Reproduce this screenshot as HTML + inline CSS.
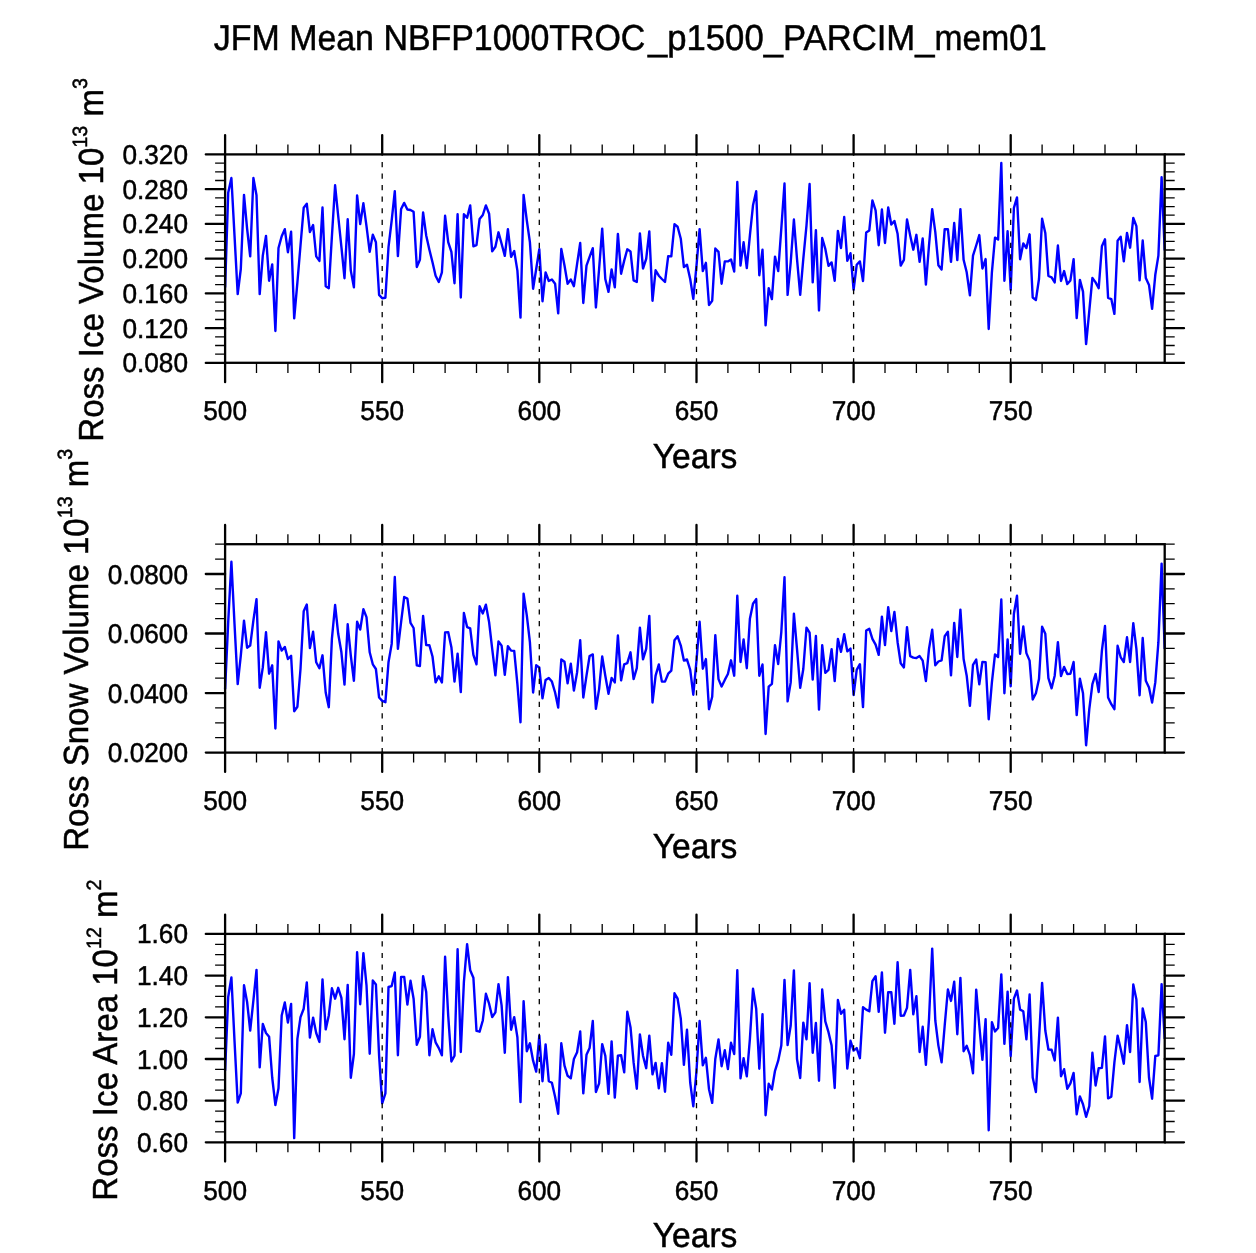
<!DOCTYPE html>
<html><head><meta charset="utf-8"><title>JFM Mean</title>
<style>
html,body{margin:0;padding:0;background:#fff;}
body{width:1256px;height:1253px;overflow:hidden;}
svg{display:block;will-change:transform;}
text{font-family:"Liberation Sans",sans-serif;fill:#000;text-rendering:geometricPrecision;}
.sup{font-size:20.7px;}
.b{stroke:#000;stroke-width:0.5px;}
.s{stroke:#000;stroke-width:0.5px;}
</style></head><body>
<svg width="1256" height="1253" viewBox="0 0 1256 1253">
<rect width="1256" height="1253" fill="#fff"/>
<text transform="translate(213.8,50.3) scale(0.9420,1)" font-size="36" class="b">JFM Mean NBFP1000TROC</text>
<text transform="translate(648.0,50.3) scale(0.9630,1)" font-size="36" class="b">_p1500_PARCIM_</text>
<text transform="translate(934.6,50.3) scale(0.9340,1)" font-size="36" class="b">mem01</text>
<polyline fill="none" stroke="#0000ff" stroke-width="2.4" stroke-linejoin="round" points="225.1,287.4 228.2,192.7 231.4,178.0 234.5,235.4 237.7,294.1 240.8,269.0 244.0,194.9 247.1,228.7 250.2,256.4 253.4,178.0 256.5,195.2 259.7,294.1 262.8,255.6 266.0,235.9 269.1,280.7 272.2,264.4 275.4,331.0 278.5,248.0 281.7,236.3 284.8,229.2 287.9,252.2 291.1,231.8 294.2,318.4 297.4,282.4 300.5,245.5 303.7,207.8 306.8,203.8 309.9,232.1 313.1,225.1 316.2,256.4 319.4,260.9 322.5,207.5 325.7,286.2 328.8,288.2 331.9,236.4 335.1,185.3 338.2,216.0 341.4,246.8 344.5,278.2 347.7,219.2 350.8,270.6 353.9,287.4 357.1,195.4 360.2,224.1 363.4,203.3 366.5,226.2 369.7,251.9 372.8,234.6 375.9,242.2 379.1,294.9 382.2,298.3 385.4,297.8 388.5,247.2 391.7,220.4 394.8,191.2 397.9,256.1 401.1,209.0 404.2,202.9 407.4,209.5 410.5,210.0 413.6,211.8 416.8,267.0 419.9,259.8 423.1,212.5 426.2,235.4 429.4,249.7 432.5,262.3 435.6,275.7 438.8,282.0 441.9,272.3 445.1,215.8 448.2,242.2 451.4,251.9 454.5,283.2 457.6,214.2 460.8,297.5 463.9,214.2 467.1,217.8 470.2,205.4 473.4,246.3 476.5,245.2 479.6,219.0 482.8,215.0 485.9,205.4 489.1,213.7 492.2,251.4 495.4,246.8 498.5,232.3 501.6,243.8 504.8,255.9 507.9,229.2 511.1,256.9 514.2,251.0 517.4,270.6 520.5,317.6 523.6,194.9 526.8,220.4 529.9,242.2 533.1,288.7 536.2,269.0 539.3,249.3 542.5,301.3 545.6,272.5 548.8,281.0 551.9,279.5 555.1,283.7 558.2,313.4 561.3,249.0 564.5,265.6 567.6,283.7 570.8,279.5 573.9,286.2 577.1,263.9 580.2,243.0 583.3,303.0 586.5,265.6 589.6,256.9 592.8,248.2 595.9,307.5 599.1,269.0 602.2,228.6 605.3,279.0 608.5,291.9 611.6,269.5 614.8,287.4 617.9,233.9 621.1,273.7 624.2,260.6 627.3,249.3 630.5,251.4 633.6,280.4 636.8,281.9 639.9,233.4 643.0,268.5 646.2,258.9 649.3,231.4 652.5,300.8 655.6,270.3 658.8,275.7 661.9,279.0 665.0,282.0 668.2,256.1 671.3,256.4 674.5,224.2 677.6,226.7 680.8,238.8 683.9,267.0 687.0,264.8 690.2,279.0 693.3,298.8 696.5,265.6 699.6,229.2 702.8,271.1 705.9,262.8 709.0,305.0 712.2,300.8 715.3,248.5 718.5,251.9 721.6,283.7 724.8,261.4 727.9,261.4 731.0,259.4 734.2,271.5 737.3,182.0 740.5,265.6 743.6,242.3 746.8,268.1 749.9,235.4 753.0,205.3 756.2,191.2 759.3,275.3 762.5,249.7 765.6,325.4 768.7,288.2 771.9,299.1 775.0,256.6 778.2,271.1 781.3,228.7 784.5,183.5 787.6,294.9 790.7,262.3 793.9,219.5 797.0,258.9 800.2,294.9 803.3,258.9 806.5,225.4 809.6,184.0 812.7,282.4 815.9,230.1 819.0,310.5 822.2,238.0 825.3,248.8 828.5,265.9 831.6,262.4 834.7,280.7 837.9,230.9 841.0,248.0 844.2,217.0 847.3,260.9 850.5,253.2 853.6,289.9 856.7,264.8 859.9,261.4 863.0,281.0 866.2,232.4 869.3,230.4 872.4,200.4 875.6,210.3 878.7,245.2 881.9,209.5 885.0,243.0 888.2,207.5 891.3,224.6 894.4,220.9 897.6,233.8 900.7,265.6 903.9,259.8 907.0,219.5 910.2,235.4 913.3,249.7 916.4,234.8 919.6,261.9 922.7,238.5 925.9,284.6 929.0,245.5 932.2,209.1 935.3,232.1 938.4,265.3 941.6,269.5 944.7,229.2 947.9,229.2 951.0,261.9 954.2,223.0 957.3,260.1 960.4,209.1 963.6,259.8 966.7,272.3 969.9,295.4 973.0,255.6 976.2,245.5 979.3,235.1 982.4,268.5 985.6,259.1 988.7,329.0 991.9,272.3 995.0,237.6 998.1,239.6 1001.3,163.0 1004.4,280.7 1007.6,231.2 1010.7,289.9 1013.9,207.8 1017.0,197.4 1020.1,259.2 1023.3,243.5 1026.4,248.0 1029.6,234.3 1032.7,297.5 1035.9,300.0 1039.0,279.0 1042.1,218.8 1045.3,232.9 1048.4,276.0 1051.6,277.4 1054.7,282.4 1057.9,245.5 1061.0,281.0 1064.1,271.1 1067.3,284.1 1070.4,280.4 1073.6,259.1 1076.7,318.1 1079.9,279.9 1083.0,291.6 1086.1,344.1 1089.3,310.9 1092.4,277.9 1095.6,282.4 1098.7,288.2 1101.9,246.3 1105.0,239.3 1108.1,297.8 1111.3,299.1 1114.4,313.9 1117.6,240.8 1120.7,236.8 1123.8,261.4 1127.0,232.9 1130.1,247.7 1133.3,218.0 1136.4,226.2 1139.6,280.4 1142.7,240.5 1145.8,277.9 1149.0,284.9 1152.1,308.9 1155.3,274.8 1158.4,255.6 1161.6,177.3 1164.7,250.5"/>
<line x1="382.2" y1="363.5" x2="382.2" y2="154.4" stroke="#000" stroke-width="1.3" stroke-dasharray="5.2,6.35"/>
<line x1="539.3" y1="363.5" x2="539.3" y2="154.4" stroke="#000" stroke-width="1.3" stroke-dasharray="5.2,6.35"/>
<line x1="696.5" y1="363.5" x2="696.5" y2="154.4" stroke="#000" stroke-width="1.3" stroke-dasharray="5.2,6.35"/>
<line x1="853.6" y1="363.5" x2="853.6" y2="154.4" stroke="#000" stroke-width="1.3" stroke-dasharray="5.2,6.35"/>
<line x1="1010.7" y1="363.5" x2="1010.7" y2="154.4" stroke="#000" stroke-width="1.3" stroke-dasharray="5.2,6.35"/>
<rect x="225.1" y="154.4" width="939.6" height="208.4" fill="none" stroke="#000" stroke-width="2.3"/>
<path d="M225.1 154.4V135.1M225.1 362.9V382.2" stroke="#000" stroke-width="2.3" stroke-linecap="round"/>
<text transform="translate(225.1,420.2) scale(0.96,1)" text-anchor="middle" font-size="27.3" class="s">500</text>
<path d="M256.5 154.4V144.4M256.5 362.9V372.9" stroke="#000" stroke-width="1.3"/>
<path d="M287.9 154.4V144.4M287.9 362.9V372.9" stroke="#000" stroke-width="1.3"/>
<path d="M319.4 154.4V144.4M319.4 362.9V372.9" stroke="#000" stroke-width="1.3"/>
<path d="M350.8 154.4V144.4M350.8 362.9V372.9" stroke="#000" stroke-width="1.3"/>
<path d="M382.2 154.4V135.1M382.2 362.9V382.2" stroke="#000" stroke-width="2.3" stroke-linecap="round"/>
<text transform="translate(382.2,420.2) scale(0.96,1)" text-anchor="middle" font-size="27.3" class="s">550</text>
<path d="M413.6 154.4V144.4M413.6 362.9V372.9" stroke="#000" stroke-width="1.3"/>
<path d="M445.1 154.4V144.4M445.1 362.9V372.9" stroke="#000" stroke-width="1.3"/>
<path d="M476.5 154.4V144.4M476.5 362.9V372.9" stroke="#000" stroke-width="1.3"/>
<path d="M507.9 154.4V144.4M507.9 362.9V372.9" stroke="#000" stroke-width="1.3"/>
<path d="M539.3 154.4V135.1M539.3 362.9V382.2" stroke="#000" stroke-width="2.3" stroke-linecap="round"/>
<text transform="translate(539.3,420.2) scale(0.96,1)" text-anchor="middle" font-size="27.3" class="s">600</text>
<path d="M570.8 154.4V144.4M570.8 362.9V372.9" stroke="#000" stroke-width="1.3"/>
<path d="M602.2 154.4V144.4M602.2 362.9V372.9" stroke="#000" stroke-width="1.3"/>
<path d="M633.6 154.4V144.4M633.6 362.9V372.9" stroke="#000" stroke-width="1.3"/>
<path d="M665.0 154.4V144.4M665.0 362.9V372.9" stroke="#000" stroke-width="1.3"/>
<path d="M696.5 154.4V135.1M696.5 362.9V382.2" stroke="#000" stroke-width="2.3" stroke-linecap="round"/>
<text transform="translate(696.5,420.2) scale(0.96,1)" text-anchor="middle" font-size="27.3" class="s">650</text>
<path d="M727.9 154.4V144.4M727.9 362.9V372.9" stroke="#000" stroke-width="1.3"/>
<path d="M759.3 154.4V144.4M759.3 362.9V372.9" stroke="#000" stroke-width="1.3"/>
<path d="M790.7 154.4V144.4M790.7 362.9V372.9" stroke="#000" stroke-width="1.3"/>
<path d="M822.2 154.4V144.4M822.2 362.9V372.9" stroke="#000" stroke-width="1.3"/>
<path d="M853.6 154.4V135.1M853.6 362.9V382.2" stroke="#000" stroke-width="2.3" stroke-linecap="round"/>
<text transform="translate(853.6,420.2) scale(0.96,1)" text-anchor="middle" font-size="27.3" class="s">700</text>
<path d="M885.0 154.4V144.4M885.0 362.9V372.9" stroke="#000" stroke-width="1.3"/>
<path d="M916.4 154.4V144.4M916.4 362.9V372.9" stroke="#000" stroke-width="1.3"/>
<path d="M947.9 154.4V144.4M947.9 362.9V372.9" stroke="#000" stroke-width="1.3"/>
<path d="M979.3 154.4V144.4M979.3 362.9V372.9" stroke="#000" stroke-width="1.3"/>
<path d="M1010.7 154.4V135.1M1010.7 362.9V382.2" stroke="#000" stroke-width="2.3" stroke-linecap="round"/>
<text transform="translate(1010.7,420.2) scale(0.96,1)" text-anchor="middle" font-size="27.3" class="s">750</text>
<path d="M1042.1 154.4V144.4M1042.1 362.9V372.9" stroke="#000" stroke-width="1.3"/>
<path d="M1073.6 154.4V144.4M1073.6 362.9V372.9" stroke="#000" stroke-width="1.3"/>
<path d="M1105.0 154.4V144.4M1105.0 362.9V372.9" stroke="#000" stroke-width="1.3"/>
<path d="M1136.4 154.4V144.4M1136.4 362.9V372.9" stroke="#000" stroke-width="1.3"/>
<path d="M225.1 362.9H205.8M1164.7 362.9H1184.0" stroke="#000" stroke-width="2.3" stroke-linecap="round"/>
<text transform="translate(188.0,372.4) scale(0.96,1)" text-anchor="end" font-size="27.3" class="s">0.080</text>
<path d="M225.1 354.2H215.1M1164.7 354.2H1174.7" stroke="#000" stroke-width="1.3"/>
<path d="M225.1 345.5H215.1M1164.7 345.5H1174.7" stroke="#000" stroke-width="1.3"/>
<path d="M225.1 336.8H215.1M1164.7 336.8H1174.7" stroke="#000" stroke-width="1.3"/>
<path d="M225.1 328.2H205.8M1164.7 328.2H1184.0" stroke="#000" stroke-width="2.3" stroke-linecap="round"/>
<text transform="translate(188.0,337.7) scale(0.96,1)" text-anchor="end" font-size="27.3" class="s">0.120</text>
<path d="M225.1 319.5H215.1M1164.7 319.5H1174.7" stroke="#000" stroke-width="1.3"/>
<path d="M225.1 310.8H215.1M1164.7 310.8H1174.7" stroke="#000" stroke-width="1.3"/>
<path d="M225.1 302.1H215.1M1164.7 302.1H1174.7" stroke="#000" stroke-width="1.3"/>
<path d="M225.1 293.4H205.8M1164.7 293.4H1184.0" stroke="#000" stroke-width="2.3" stroke-linecap="round"/>
<text transform="translate(188.0,302.9) scale(0.96,1)" text-anchor="end" font-size="27.3" class="s">0.160</text>
<path d="M225.1 284.7H215.1M1164.7 284.7H1174.7" stroke="#000" stroke-width="1.3"/>
<path d="M225.1 276.0H215.1M1164.7 276.0H1174.7" stroke="#000" stroke-width="1.3"/>
<path d="M225.1 267.4H215.1M1164.7 267.4H1174.7" stroke="#000" stroke-width="1.3"/>
<path d="M225.1 258.7H205.8M1164.7 258.7H1184.0" stroke="#000" stroke-width="2.3" stroke-linecap="round"/>
<text transform="translate(188.0,268.2) scale(0.96,1)" text-anchor="end" font-size="27.3" class="s">0.200</text>
<path d="M225.1 250.0H215.1M1164.7 250.0H1174.7" stroke="#000" stroke-width="1.3"/>
<path d="M225.1 241.3H215.1M1164.7 241.3H1174.7" stroke="#000" stroke-width="1.3"/>
<path d="M225.1 232.6H215.1M1164.7 232.6H1174.7" stroke="#000" stroke-width="1.3"/>
<path d="M225.1 223.9H205.8M1164.7 223.9H1184.0" stroke="#000" stroke-width="2.3" stroke-linecap="round"/>
<text transform="translate(188.0,233.4) scale(0.96,1)" text-anchor="end" font-size="27.3" class="s">0.240</text>
<path d="M225.1 215.2H215.1M1164.7 215.2H1174.7" stroke="#000" stroke-width="1.3"/>
<path d="M225.1 206.6H215.1M1164.7 206.6H1174.7" stroke="#000" stroke-width="1.3"/>
<path d="M225.1 197.9H215.1M1164.7 197.9H1174.7" stroke="#000" stroke-width="1.3"/>
<path d="M225.1 189.2H205.8M1164.7 189.2H1184.0" stroke="#000" stroke-width="2.3" stroke-linecap="round"/>
<text transform="translate(188.0,198.7) scale(0.96,1)" text-anchor="end" font-size="27.3" class="s">0.280</text>
<path d="M225.1 180.5H215.1M1164.7 180.5H1174.7" stroke="#000" stroke-width="1.3"/>
<path d="M225.1 171.8H215.1M1164.7 171.8H1174.7" stroke="#000" stroke-width="1.3"/>
<path d="M225.1 163.1H215.1M1164.7 163.1H1174.7" stroke="#000" stroke-width="1.3"/>
<path d="M225.1 154.4H205.8M1164.7 154.4H1184.0" stroke="#000" stroke-width="2.3" stroke-linecap="round"/>
<text transform="translate(188.0,163.9) scale(0.96,1)" text-anchor="end" font-size="27.3" class="s">0.320</text>
<text transform="translate(695.1,467.9) scale(0.965,1)" text-anchor="middle" font-size="34.8" class="b">Years</text>
<text transform="translate(102.7,259.9) rotate(-90) scale(0.9500,1)" text-anchor="middle" font-size="34.8" class="b">Ross Ice Volume 10<tspan class="sup" dy="-16">13</tspan><tspan dy="16"> m</tspan><tspan class="sup" dy="-16">3</tspan></text>
<polyline fill="none" stroke="#0000ff" stroke-width="2.4" stroke-linejoin="round" points="225.1,689.1 228.2,622.1 231.4,561.8 234.5,623.8 237.7,684.1 240.8,655.6 244.0,620.6 247.1,647.7 250.2,645.6 253.4,620.4 256.5,599.1 259.7,687.8 262.8,667.4 266.0,632.3 269.1,673.7 272.2,665.3 275.4,728.5 278.5,641.4 281.7,650.6 284.8,646.9 287.9,659.0 291.1,655.8 294.2,711.3 297.4,706.7 300.5,669.0 303.7,611.2 306.8,604.5 309.9,648.1 313.1,631.8 316.2,662.3 319.4,668.2 322.5,655.3 325.7,692.5 328.8,707.2 331.9,638.9 335.1,605.0 338.2,633.8 341.4,652.3 344.5,684.6 347.7,624.3 350.8,655.6 353.9,680.8 357.1,621.8 360.2,629.6 363.4,609.2 366.5,617.1 369.7,652.3 372.8,664.3 375.9,669.0 379.1,697.5 382.2,700.9 385.4,702.2 388.5,662.3 391.7,643.9 394.8,577.0 397.9,648.9 401.1,622.1 404.2,597.0 407.4,598.6 410.5,622.9 413.6,628.0 416.8,665.3 419.9,666.0 423.1,615.9 426.2,645.1 429.4,645.2 432.5,656.5 435.6,682.4 438.8,676.2 441.9,682.4 445.1,632.5 448.2,632.1 451.4,647.2 454.5,681.6 457.6,653.6 460.8,692.1 463.9,612.9 467.1,627.1 470.2,628.3 473.4,654.8 476.5,664.3 479.6,606.2 482.8,613.4 485.9,604.7 489.1,622.1 492.2,648.9 495.4,675.4 498.5,641.4 501.6,645.6 504.8,674.9 507.9,646.1 511.1,650.6 514.2,650.9 517.4,684.1 520.5,722.3 523.6,593.6 526.8,615.4 529.9,642.2 533.1,692.5 536.2,665.3 539.3,667.4 542.5,698.4 545.6,679.9 548.8,677.9 551.9,681.6 555.1,692.5 558.2,707.6 561.3,659.5 564.5,661.8 567.6,683.3 570.8,663.7 573.9,690.5 577.1,672.4 580.2,640.2 583.3,697.5 586.5,675.7 589.6,656.0 592.8,654.4 595.9,708.9 599.1,689.1 602.2,656.5 605.3,675.7 608.5,693.8 611.6,677.9 614.8,682.4 617.9,635.5 621.1,680.4 624.2,664.3 627.3,663.2 630.5,652.3 633.6,679.1 636.8,668.2 639.9,627.6 643.0,659.3 646.2,648.9 649.3,615.9 652.5,702.5 655.6,675.7 658.8,664.5 661.9,681.6 665.0,681.6 668.2,673.7 671.3,670.7 674.5,640.2 677.6,636.3 680.8,645.6 683.9,660.6 687.0,659.5 690.2,669.9 693.3,694.7 696.5,660.6 699.6,621.8 702.8,668.7 705.9,659.1 709.0,709.2 712.2,696.7 715.3,635.2 718.5,679.1 721.6,686.6 724.8,679.9 727.9,674.0 731.0,660.3 734.2,675.7 737.3,595.8 740.5,662.0 743.6,639.4 746.8,668.2 749.9,618.7 753.0,603.7 756.2,599.1 759.3,675.7 762.5,664.5 765.6,734.0 768.7,686.6 771.9,683.8 775.0,645.2 778.2,664.0 781.3,632.1 784.5,577.3 787.6,701.4 790.7,682.4 793.9,613.7 797.0,648.9 800.2,687.8 803.3,669.0 806.5,627.6 809.6,632.6 812.7,679.6 815.9,636.0 819.0,709.6 822.2,645.2 825.3,672.9 828.5,669.9 831.6,649.1 834.7,681.1 837.9,638.9 841.0,651.9 844.2,634.3 847.3,651.4 850.5,648.6 853.6,695.0 856.7,669.9 859.9,664.2 863.0,707.1 866.2,630.5 869.3,628.8 872.4,638.9 875.6,644.7 878.7,654.8 881.9,616.7 885.0,645.1 888.2,607.2 891.3,631.0 894.4,612.0 897.6,642.2 900.7,663.2 903.9,667.4 907.0,627.1 910.2,656.1 913.3,657.6 916.4,658.1 919.6,656.1 922.7,660.6 925.9,681.1 929.0,648.9 932.2,629.6 935.3,665.3 938.4,661.5 941.6,660.3 944.7,636.3 947.9,631.8 951.0,675.4 954.2,622.9 957.3,657.0 960.4,609.7 963.6,659.0 966.7,675.7 969.9,705.9 973.0,664.8 976.2,659.6 979.3,684.4 982.4,662.0 985.6,662.1 988.7,719.3 991.9,682.4 995.0,654.4 998.1,657.0 1001.3,599.5 1004.4,693.3 1007.6,639.4 1010.7,686.3 1013.9,613.7 1017.0,595.8 1020.1,653.9 1023.3,626.5 1026.4,653.1 1029.6,660.6 1032.7,699.5 1035.9,693.3 1039.0,679.1 1042.1,626.8 1045.3,633.8 1048.4,678.2 1051.6,688.3 1054.7,675.7 1057.9,642.2 1061.0,676.1 1064.1,667.0 1067.3,674.0 1070.4,673.7 1073.6,662.0 1076.7,715.1 1079.9,678.7 1083.0,693.3 1086.1,745.3 1089.3,709.2 1092.4,684.1 1095.6,674.0 1098.7,692.0 1101.9,650.6 1105.0,626.0 1108.1,697.5 1111.3,704.2 1114.4,709.2 1117.6,645.7 1120.7,657.3 1123.8,662.0 1127.0,637.3 1130.1,662.0 1133.3,623.1 1136.4,648.9 1139.6,695.3 1142.7,638.0 1145.8,680.8 1149.0,687.5 1152.1,702.5 1155.3,682.4 1158.4,642.2 1161.6,563.6 1164.7,648.9"/>
<line x1="382.2" y1="753.2" x2="382.2" y2="544.2" stroke="#000" stroke-width="1.3" stroke-dasharray="5.2,6.35"/>
<line x1="539.3" y1="753.2" x2="539.3" y2="544.2" stroke="#000" stroke-width="1.3" stroke-dasharray="5.2,6.35"/>
<line x1="696.5" y1="753.2" x2="696.5" y2="544.2" stroke="#000" stroke-width="1.3" stroke-dasharray="5.2,6.35"/>
<line x1="853.6" y1="753.2" x2="853.6" y2="544.2" stroke="#000" stroke-width="1.3" stroke-dasharray="5.2,6.35"/>
<line x1="1010.7" y1="753.2" x2="1010.7" y2="544.2" stroke="#000" stroke-width="1.3" stroke-dasharray="5.2,6.35"/>
<rect x="225.1" y="544.2" width="939.6" height="208.4" fill="none" stroke="#000" stroke-width="2.3"/>
<path d="M225.1 544.2V524.9M225.1 752.6V771.9" stroke="#000" stroke-width="2.3" stroke-linecap="round"/>
<text transform="translate(225.1,809.9) scale(0.96,1)" text-anchor="middle" font-size="27.3" class="s">500</text>
<path d="M256.5 544.2V534.2M256.5 752.6V762.6" stroke="#000" stroke-width="1.3"/>
<path d="M287.9 544.2V534.2M287.9 752.6V762.6" stroke="#000" stroke-width="1.3"/>
<path d="M319.4 544.2V534.2M319.4 752.6V762.6" stroke="#000" stroke-width="1.3"/>
<path d="M350.8 544.2V534.2M350.8 752.6V762.6" stroke="#000" stroke-width="1.3"/>
<path d="M382.2 544.2V524.9M382.2 752.6V771.9" stroke="#000" stroke-width="2.3" stroke-linecap="round"/>
<text transform="translate(382.2,809.9) scale(0.96,1)" text-anchor="middle" font-size="27.3" class="s">550</text>
<path d="M413.6 544.2V534.2M413.6 752.6V762.6" stroke="#000" stroke-width="1.3"/>
<path d="M445.1 544.2V534.2M445.1 752.6V762.6" stroke="#000" stroke-width="1.3"/>
<path d="M476.5 544.2V534.2M476.5 752.6V762.6" stroke="#000" stroke-width="1.3"/>
<path d="M507.9 544.2V534.2M507.9 752.6V762.6" stroke="#000" stroke-width="1.3"/>
<path d="M539.3 544.2V524.9M539.3 752.6V771.9" stroke="#000" stroke-width="2.3" stroke-linecap="round"/>
<text transform="translate(539.3,809.9) scale(0.96,1)" text-anchor="middle" font-size="27.3" class="s">600</text>
<path d="M570.8 544.2V534.2M570.8 752.6V762.6" stroke="#000" stroke-width="1.3"/>
<path d="M602.2 544.2V534.2M602.2 752.6V762.6" stroke="#000" stroke-width="1.3"/>
<path d="M633.6 544.2V534.2M633.6 752.6V762.6" stroke="#000" stroke-width="1.3"/>
<path d="M665.0 544.2V534.2M665.0 752.6V762.6" stroke="#000" stroke-width="1.3"/>
<path d="M696.5 544.2V524.9M696.5 752.6V771.9" stroke="#000" stroke-width="2.3" stroke-linecap="round"/>
<text transform="translate(696.5,809.9) scale(0.96,1)" text-anchor="middle" font-size="27.3" class="s">650</text>
<path d="M727.9 544.2V534.2M727.9 752.6V762.6" stroke="#000" stroke-width="1.3"/>
<path d="M759.3 544.2V534.2M759.3 752.6V762.6" stroke="#000" stroke-width="1.3"/>
<path d="M790.7 544.2V534.2M790.7 752.6V762.6" stroke="#000" stroke-width="1.3"/>
<path d="M822.2 544.2V534.2M822.2 752.6V762.6" stroke="#000" stroke-width="1.3"/>
<path d="M853.6 544.2V524.9M853.6 752.6V771.9" stroke="#000" stroke-width="2.3" stroke-linecap="round"/>
<text transform="translate(853.6,809.9) scale(0.96,1)" text-anchor="middle" font-size="27.3" class="s">700</text>
<path d="M885.0 544.2V534.2M885.0 752.6V762.6" stroke="#000" stroke-width="1.3"/>
<path d="M916.4 544.2V534.2M916.4 752.6V762.6" stroke="#000" stroke-width="1.3"/>
<path d="M947.9 544.2V534.2M947.9 752.6V762.6" stroke="#000" stroke-width="1.3"/>
<path d="M979.3 544.2V534.2M979.3 752.6V762.6" stroke="#000" stroke-width="1.3"/>
<path d="M1010.7 544.2V524.9M1010.7 752.6V771.9" stroke="#000" stroke-width="2.3" stroke-linecap="round"/>
<text transform="translate(1010.7,809.9) scale(0.96,1)" text-anchor="middle" font-size="27.3" class="s">750</text>
<path d="M1042.1 544.2V534.2M1042.1 752.6V762.6" stroke="#000" stroke-width="1.3"/>
<path d="M1073.6 544.2V534.2M1073.6 752.6V762.6" stroke="#000" stroke-width="1.3"/>
<path d="M1105.0 544.2V534.2M1105.0 752.6V762.6" stroke="#000" stroke-width="1.3"/>
<path d="M1136.4 544.2V534.2M1136.4 752.6V762.6" stroke="#000" stroke-width="1.3"/>
<path d="M225.1 752.6H205.8M1164.7 752.6H1184.0" stroke="#000" stroke-width="2.3" stroke-linecap="round"/>
<text transform="translate(188.0,762.1) scale(0.96,1)" text-anchor="end" font-size="27.3" class="s">0.0200</text>
<path d="M225.1 737.7H215.1M1164.7 737.7H1174.7" stroke="#000" stroke-width="1.3"/>
<path d="M225.1 722.8H215.1M1164.7 722.8H1174.7" stroke="#000" stroke-width="1.3"/>
<path d="M225.1 707.9H215.1M1164.7 707.9H1174.7" stroke="#000" stroke-width="1.3"/>
<path d="M225.1 693.1H205.8M1164.7 693.1H1184.0" stroke="#000" stroke-width="2.3" stroke-linecap="round"/>
<text transform="translate(188.0,702.6) scale(0.96,1)" text-anchor="end" font-size="27.3" class="s">0.0400</text>
<path d="M225.1 678.2H215.1M1164.7 678.2H1174.7" stroke="#000" stroke-width="1.3"/>
<path d="M225.1 663.3H215.1M1164.7 663.3H1174.7" stroke="#000" stroke-width="1.3"/>
<path d="M225.1 648.4H215.1M1164.7 648.4H1174.7" stroke="#000" stroke-width="1.3"/>
<path d="M225.1 633.5H205.8M1164.7 633.5H1184.0" stroke="#000" stroke-width="2.3" stroke-linecap="round"/>
<text transform="translate(188.0,643.0) scale(0.96,1)" text-anchor="end" font-size="27.3" class="s">0.0600</text>
<path d="M225.1 618.6H215.1M1164.7 618.6H1174.7" stroke="#000" stroke-width="1.3"/>
<path d="M225.1 603.7H215.1M1164.7 603.7H1174.7" stroke="#000" stroke-width="1.3"/>
<path d="M225.1 588.9H215.1M1164.7 588.9H1174.7" stroke="#000" stroke-width="1.3"/>
<path d="M225.1 574.0H205.8M1164.7 574.0H1184.0" stroke="#000" stroke-width="2.3" stroke-linecap="round"/>
<text transform="translate(188.0,583.5) scale(0.96,1)" text-anchor="end" font-size="27.3" class="s">0.0800</text>
<path d="M225.1 559.1H215.1M1164.7 559.1H1174.7" stroke="#000" stroke-width="1.3"/>
<path d="M225.1 544.2H215.1M1164.7 544.2H1174.7" stroke="#000" stroke-width="1.3"/>
<text transform="translate(695.1,857.6) scale(0.965,1)" text-anchor="middle" font-size="34.8" class="b">Years</text>
<text transform="translate(88.0,649.8) rotate(-90) scale(0.9500,1)" text-anchor="middle" font-size="34.8" class="b">Ross Snow Volume 10<tspan class="sup" dy="-16">13</tspan><tspan dy="16"> m</tspan><tspan class="sup" dy="-16">3</tspan></text>
<polyline fill="none" stroke="#0000ff" stroke-width="2.4" stroke-linejoin="round" points="225.1,1070.8 228.2,997.0 231.4,977.4 234.5,1040.6 237.7,1102.6 240.8,1093.4 244.0,985.3 247.1,1002.0 250.2,1030.5 253.4,1000.4 256.5,969.9 259.7,1067.4 262.8,1024.0 266.0,1033.0 269.1,1036.7 272.2,1077.5 275.4,1105.1 278.5,1088.3 281.7,1015.5 284.8,1002.5 287.9,1022.5 291.1,1003.9 294.2,1138.1 297.4,1038.9 300.5,1017.1 303.7,1008.7 306.8,982.4 309.9,1037.6 313.1,1017.6 316.2,1033.0 319.4,1041.9 322.5,979.4 325.7,1029.4 328.8,1015.5 331.9,988.3 335.1,998.7 338.2,987.8 341.4,997.9 344.5,1039.2 347.7,984.9 350.8,1077.8 353.9,1054.0 357.1,952.3 360.2,1004.2 363.4,953.1 366.5,985.3 369.7,1053.7 372.8,980.4 375.9,984.4 379.1,1055.7 382.2,1103.4 385.4,1093.4 388.5,987.0 391.7,986.1 394.8,972.4 397.9,1055.2 401.1,976.9 404.2,976.9 407.4,1004.5 410.5,980.8 413.6,998.7 416.8,1044.8 419.9,1036.7 423.1,976.1 426.2,992.0 429.4,1055.3 432.5,1029.3 435.6,1042.3 438.8,1048.1 441.9,1055.3 445.1,956.8 448.2,1015.5 451.4,1061.5 454.5,1055.7 457.6,949.2 460.8,1052.0 463.9,981.9 467.1,944.2 470.2,970.2 473.4,977.7 476.5,1030.9 479.6,1031.7 482.8,1020.5 485.9,993.8 489.1,1003.7 492.2,1017.1 495.4,1012.4 498.5,984.1 501.6,1005.4 504.8,1052.8 507.9,977.1 511.1,1029.7 514.2,1017.1 517.4,1037.2 520.5,1102.1 523.6,1001.2 526.8,1051.2 529.9,1043.3 533.1,1060.7 536.2,1071.6 539.3,1035.6 542.5,1081.2 545.6,1044.4 548.8,1081.2 551.9,1082.8 555.1,1096.7 558.2,1113.8 561.3,1043.3 564.5,1065.7 567.6,1075.8 570.8,1078.3 573.9,1059.0 577.1,1052.3 580.2,1031.4 583.3,1093.4 586.5,1054.8 589.6,1048.1 592.8,1021.0 595.9,1092.0 599.1,1083.3 602.2,1044.1 605.3,1055.7 608.5,1093.9 611.6,1041.4 614.8,1097.6 617.9,1055.7 621.1,1055.3 624.2,1072.4 627.3,1011.8 630.5,1027.2 633.6,1062.4 636.8,1088.7 639.9,1034.4 643.0,1055.7 646.2,1068.2 649.3,1035.6 652.5,1074.4 655.6,1062.9 658.8,1088.3 661.9,1063.2 665.0,1091.7 668.2,1042.8 671.3,1054.8 674.5,993.3 677.6,998.7 680.8,1018.8 683.9,1064.9 687.0,1029.7 690.2,1082.5 693.3,1106.3 696.5,1070.8 699.6,1021.0 702.8,1065.4 705.9,1057.8 709.0,1089.2 712.2,1102.9 715.3,1059.0 718.5,1039.4 721.6,1066.2 724.8,1050.3 727.9,1069.1 731.0,1042.8 734.2,1054.0 737.3,970.2 740.5,1078.3 743.6,1058.3 746.8,1076.3 749.9,1038.9 753.0,988.8 756.2,1008.7 759.3,1068.7 762.5,1014.3 765.6,1115.2 768.7,1083.8 771.9,1089.5 775.0,1070.8 778.2,1060.7 781.3,1045.6 784.5,979.9 787.6,1045.1 790.7,1025.5 793.9,970.4 797.0,1059.0 800.2,1078.0 803.3,1022.6 806.5,1039.2 809.6,983.3 812.7,1052.8 815.9,1023.0 819.0,1080.8 822.2,989.5 825.3,1021.3 828.5,1032.2 831.6,1045.6 834.7,1088.0 837.9,1000.0 841.0,1013.8 844.2,1009.8 847.3,1068.6 850.5,1040.8 853.6,1050.6 856.7,1048.1 859.9,1058.2 863.0,1007.2 866.2,1009.6 869.3,1011.3 872.4,981.1 875.6,976.2 878.7,1011.8 881.9,972.4 885.0,1032.7 888.2,992.1 891.3,992.3 894.4,1023.8 897.6,962.3 900.7,1015.8 903.9,1015.5 907.0,1007.9 910.2,969.9 913.3,1014.3 916.4,996.3 919.6,1052.0 922.7,1026.8 925.9,1064.9 929.0,1018.8 932.2,948.6 935.3,1020.5 938.4,1045.6 941.6,1062.4 944.7,1025.5 947.9,989.5 951.0,1000.9 954.2,981.6 957.3,1034.2 960.4,977.9 963.6,1051.2 966.7,1045.8 969.9,1054.8 973.0,1073.3 976.2,989.6 979.3,1025.5 982.4,1059.9 985.6,1019.3 988.7,1130.2 991.9,1022.1 995.0,1031.4 998.1,1028.0 1001.3,974.4 1004.4,1043.9 1007.6,991.6 1010.7,1056.2 1013.9,998.7 1017.0,990.5 1020.1,1009.6 1023.3,1011.3 1026.4,1039.4 1029.6,994.5 1032.7,1077.5 1035.9,1092.0 1039.0,1038.9 1042.1,982.9 1045.3,1030.5 1048.4,1049.5 1051.6,1049.8 1054.7,1060.4 1057.9,1017.6 1061.0,1076.3 1064.1,1069.2 1067.3,1088.7 1070.4,1083.3 1073.6,1072.9 1076.7,1114.3 1079.9,1096.4 1083.0,1104.3 1086.1,1116.8 1089.3,1106.0 1092.4,1052.8 1095.6,1085.5 1098.7,1068.2 1101.9,1067.9 1105.0,1036.4 1108.1,1098.4 1111.3,1096.7 1114.4,1062.4 1117.6,1035.6 1120.7,1049.0 1123.8,1063.7 1127.0,1025.2 1130.1,1052.0 1133.3,984.4 1136.4,999.5 1139.6,1082.0 1142.7,1008.4 1145.8,1022.1 1149.0,1077.5 1152.1,1098.7 1155.3,1056.0 1158.4,1055.3 1161.6,984.1 1164.7,1038.9"/>
<line x1="382.2" y1="1142.9" x2="382.2" y2="933.9" stroke="#000" stroke-width="1.3" stroke-dasharray="5.2,6.35"/>
<line x1="539.3" y1="1142.9" x2="539.3" y2="933.9" stroke="#000" stroke-width="1.3" stroke-dasharray="5.2,6.35"/>
<line x1="696.5" y1="1142.9" x2="696.5" y2="933.9" stroke="#000" stroke-width="1.3" stroke-dasharray="5.2,6.35"/>
<line x1="853.6" y1="1142.9" x2="853.6" y2="933.9" stroke="#000" stroke-width="1.3" stroke-dasharray="5.2,6.35"/>
<line x1="1010.7" y1="1142.9" x2="1010.7" y2="933.9" stroke="#000" stroke-width="1.3" stroke-dasharray="5.2,6.35"/>
<rect x="225.1" y="933.9" width="939.6" height="208.4" fill="none" stroke="#000" stroke-width="2.3"/>
<path d="M225.1 933.9V914.6M225.1 1142.3V1161.6" stroke="#000" stroke-width="2.3" stroke-linecap="round"/>
<text transform="translate(225.1,1199.6) scale(0.96,1)" text-anchor="middle" font-size="27.3" class="s">500</text>
<path d="M256.5 933.9V923.9M256.5 1142.3V1152.3" stroke="#000" stroke-width="1.3"/>
<path d="M287.9 933.9V923.9M287.9 1142.3V1152.3" stroke="#000" stroke-width="1.3"/>
<path d="M319.4 933.9V923.9M319.4 1142.3V1152.3" stroke="#000" stroke-width="1.3"/>
<path d="M350.8 933.9V923.9M350.8 1142.3V1152.3" stroke="#000" stroke-width="1.3"/>
<path d="M382.2 933.9V914.6M382.2 1142.3V1161.6" stroke="#000" stroke-width="2.3" stroke-linecap="round"/>
<text transform="translate(382.2,1199.6) scale(0.96,1)" text-anchor="middle" font-size="27.3" class="s">550</text>
<path d="M413.6 933.9V923.9M413.6 1142.3V1152.3" stroke="#000" stroke-width="1.3"/>
<path d="M445.1 933.9V923.9M445.1 1142.3V1152.3" stroke="#000" stroke-width="1.3"/>
<path d="M476.5 933.9V923.9M476.5 1142.3V1152.3" stroke="#000" stroke-width="1.3"/>
<path d="M507.9 933.9V923.9M507.9 1142.3V1152.3" stroke="#000" stroke-width="1.3"/>
<path d="M539.3 933.9V914.6M539.3 1142.3V1161.6" stroke="#000" stroke-width="2.3" stroke-linecap="round"/>
<text transform="translate(539.3,1199.6) scale(0.96,1)" text-anchor="middle" font-size="27.3" class="s">600</text>
<path d="M570.8 933.9V923.9M570.8 1142.3V1152.3" stroke="#000" stroke-width="1.3"/>
<path d="M602.2 933.9V923.9M602.2 1142.3V1152.3" stroke="#000" stroke-width="1.3"/>
<path d="M633.6 933.9V923.9M633.6 1142.3V1152.3" stroke="#000" stroke-width="1.3"/>
<path d="M665.0 933.9V923.9M665.0 1142.3V1152.3" stroke="#000" stroke-width="1.3"/>
<path d="M696.5 933.9V914.6M696.5 1142.3V1161.6" stroke="#000" stroke-width="2.3" stroke-linecap="round"/>
<text transform="translate(696.5,1199.6) scale(0.96,1)" text-anchor="middle" font-size="27.3" class="s">650</text>
<path d="M727.9 933.9V923.9M727.9 1142.3V1152.3" stroke="#000" stroke-width="1.3"/>
<path d="M759.3 933.9V923.9M759.3 1142.3V1152.3" stroke="#000" stroke-width="1.3"/>
<path d="M790.7 933.9V923.9M790.7 1142.3V1152.3" stroke="#000" stroke-width="1.3"/>
<path d="M822.2 933.9V923.9M822.2 1142.3V1152.3" stroke="#000" stroke-width="1.3"/>
<path d="M853.6 933.9V914.6M853.6 1142.3V1161.6" stroke="#000" stroke-width="2.3" stroke-linecap="round"/>
<text transform="translate(853.6,1199.6) scale(0.96,1)" text-anchor="middle" font-size="27.3" class="s">700</text>
<path d="M885.0 933.9V923.9M885.0 1142.3V1152.3" stroke="#000" stroke-width="1.3"/>
<path d="M916.4 933.9V923.9M916.4 1142.3V1152.3" stroke="#000" stroke-width="1.3"/>
<path d="M947.9 933.9V923.9M947.9 1142.3V1152.3" stroke="#000" stroke-width="1.3"/>
<path d="M979.3 933.9V923.9M979.3 1142.3V1152.3" stroke="#000" stroke-width="1.3"/>
<path d="M1010.7 933.9V914.6M1010.7 1142.3V1161.6" stroke="#000" stroke-width="2.3" stroke-linecap="round"/>
<text transform="translate(1010.7,1199.6) scale(0.96,1)" text-anchor="middle" font-size="27.3" class="s">750</text>
<path d="M1042.1 933.9V923.9M1042.1 1142.3V1152.3" stroke="#000" stroke-width="1.3"/>
<path d="M1073.6 933.9V923.9M1073.6 1142.3V1152.3" stroke="#000" stroke-width="1.3"/>
<path d="M1105.0 933.9V923.9M1105.0 1142.3V1152.3" stroke="#000" stroke-width="1.3"/>
<path d="M1136.4 933.9V923.9M1136.4 1142.3V1152.3" stroke="#000" stroke-width="1.3"/>
<path d="M225.1 1142.3H205.8M1164.7 1142.3H1184.0" stroke="#000" stroke-width="2.3" stroke-linecap="round"/>
<text transform="translate(188.0,1151.8) scale(0.96,1)" text-anchor="end" font-size="27.3" class="s">0.60</text>
<path d="M225.1 1131.9H215.1M1164.7 1131.9H1174.7" stroke="#000" stroke-width="1.3"/>
<path d="M225.1 1121.5H215.1M1164.7 1121.5H1174.7" stroke="#000" stroke-width="1.3"/>
<path d="M225.1 1111.1H215.1M1164.7 1111.1H1174.7" stroke="#000" stroke-width="1.3"/>
<path d="M225.1 1100.7H205.8M1164.7 1100.7H1184.0" stroke="#000" stroke-width="2.3" stroke-linecap="round"/>
<text transform="translate(188.0,1110.2) scale(0.96,1)" text-anchor="end" font-size="27.3" class="s">0.80</text>
<path d="M225.1 1090.2H215.1M1164.7 1090.2H1174.7" stroke="#000" stroke-width="1.3"/>
<path d="M225.1 1079.8H215.1M1164.7 1079.8H1174.7" stroke="#000" stroke-width="1.3"/>
<path d="M225.1 1069.4H215.1M1164.7 1069.4H1174.7" stroke="#000" stroke-width="1.3"/>
<path d="M225.1 1059.0H205.8M1164.7 1059.0H1184.0" stroke="#000" stroke-width="2.3" stroke-linecap="round"/>
<text transform="translate(188.0,1068.5) scale(0.96,1)" text-anchor="end" font-size="27.3" class="s">1.00</text>
<path d="M225.1 1048.5H215.1M1164.7 1048.5H1174.7" stroke="#000" stroke-width="1.3"/>
<path d="M225.1 1038.1H215.1M1164.7 1038.1H1174.7" stroke="#000" stroke-width="1.3"/>
<path d="M225.1 1027.7H215.1M1164.7 1027.7H1174.7" stroke="#000" stroke-width="1.3"/>
<path d="M225.1 1017.3H205.8M1164.7 1017.3H1184.0" stroke="#000" stroke-width="2.3" stroke-linecap="round"/>
<text transform="translate(188.0,1026.8) scale(0.96,1)" text-anchor="end" font-size="27.3" class="s">1.20</text>
<path d="M225.1 1006.9H215.1M1164.7 1006.9H1174.7" stroke="#000" stroke-width="1.3"/>
<path d="M225.1 996.4H215.1M1164.7 996.4H1174.7" stroke="#000" stroke-width="1.3"/>
<path d="M225.1 986.0H215.1M1164.7 986.0H1174.7" stroke="#000" stroke-width="1.3"/>
<path d="M225.1 975.6H205.8M1164.7 975.6H1184.0" stroke="#000" stroke-width="2.3" stroke-linecap="round"/>
<text transform="translate(188.0,985.1) scale(0.96,1)" text-anchor="end" font-size="27.3" class="s">1.40</text>
<path d="M225.1 965.2H215.1M1164.7 965.2H1174.7" stroke="#000" stroke-width="1.3"/>
<path d="M225.1 954.7H215.1M1164.7 954.7H1174.7" stroke="#000" stroke-width="1.3"/>
<path d="M225.1 944.3H215.1M1164.7 944.3H1174.7" stroke="#000" stroke-width="1.3"/>
<path d="M225.1 933.9H205.8M1164.7 933.9H1184.0" stroke="#000" stroke-width="2.3" stroke-linecap="round"/>
<text transform="translate(188.0,943.4) scale(0.96,1)" text-anchor="end" font-size="27.3" class="s">1.60</text>
<text transform="translate(695.1,1247.3) scale(0.965,1)" text-anchor="middle" font-size="34.8" class="b">Years</text>
<text transform="translate(117.0,1040.1) rotate(-90) scale(0.9500,1)" text-anchor="middle" font-size="34.8" class="b">Ross Ice Area 10<tspan class="sup" dy="-16">12</tspan><tspan dy="16"> m</tspan><tspan class="sup" dy="-16">2</tspan></text>
</svg>
</body></html>
